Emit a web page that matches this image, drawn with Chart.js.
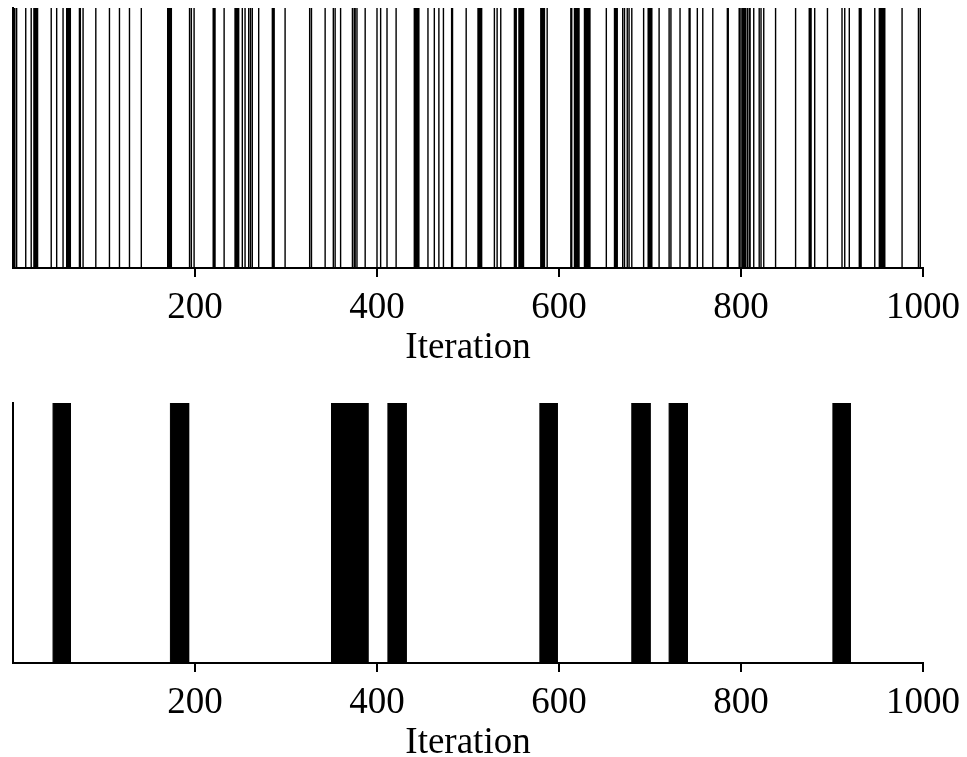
<!DOCTYPE html>
<html>
<head>
<meta charset="utf-8">
<script src="https://cdn.jsdelivr.net/npm/chart.js@4.4.0/dist/chart.umd.min.js"></script>
<style>
  body { margin: 0; background: #fff; overflow: hidden; }
  .panel { position: absolute; left: 0; }
</style>
</head>
<body>
<div class="panel" style="top:0px"><canvas id="eventChart" width="967" height="380"></canvas></div>
<div class="panel" style="top:395px"><canvas id="blockChart" width="967" height="380"></canvas></div>
<script>
// iterations with a single event (top panel)
const eventIterations = [
    1, 2, 4, 14, 20, 23, 24, 25, 26, 27, 42, 48, 55, 59, 60, 61, 62, 63, 73, 74, 77, 91,
    106, 117, 128, 141, 170, 171, 172, 173, 174, 194, 196, 199, 220, 221, 222, 232,
    244, 245, 246, 247, 248, 252, 255, 259, 261, 263, 270, 285, 286, 287, 299,
    326, 328, 343, 352, 354, 360, 373, 375, 376, 378, 387,
    400, 404, 411, 421, 441, 442, 443, 444, 445, 446, 456, 463, 468, 473, 482, 483, 498,
    511, 512, 513, 514, 515, 529, 532, 536, 551, 552, 553, 556, 557, 558, 559, 560, 561,
    580, 581, 582, 583, 584, 587,
    613, 614, 617, 618, 619, 620, 621, 622, 628, 629, 630, 631, 632, 633, 634, 652,
    661, 662, 663, 664, 670, 672, 675, 677, 680, 693, 698, 699, 700, 701, 702,
    710, 721, 723, 733, 743, 744, 752, 758, 769, 785, 786,
    798, 799, 801, 802, 803, 804, 805, 807, 809, 810, 814, 820, 822, 825, 838, 860,
    875, 876, 877, 881, 895, 911, 914, 919, 930, 931, 932, 947,
    952, 953, 954, 955, 956, 957, 958, 977, 995, 997
];

// start and end iteration of each block (bottom panel)
const blockStarts = [44, 173, 350, 412, 579, 680, 721, 901];
const blockEnds = [63, 193, 390, 432, 598, 700, 741, 920];

const tickValues = [200, 400, 600, 800, 1000];
const axisTitle = 'Iteration';

const serif = 'Liberation Serif';

// one vertical segment per event, separated by gaps
function eventSegments(iters) {
    const points = [];
    iters.forEach(it => {
        points.push({ x: it, y: 0 }, { x: it, y: 1 }, { x: it, y: null });
    });
    return points;
}

// rectangle outline for every block, filled down to zero
function blockOutline(starts, ends) {
    const points = [];
    starts.forEach((s, i) => {
        points.push({ x: s, y: 0 }, { x: s, y: 1 }, { x: ends[i], y: 1 }, { x: ends[i], y: 0 });
    });
    return points;
}

function panelOptions() {
    return {
        responsive: false,
        animation: false,
        devicePixelRatio: 1,
        layout: { padding: { top: 8, left: 13, right: 44, bottom: 0 } },
        plugins: {
            legend: { display: false },
            tooltip: { enabled: false }
        },
        elements: { point: { radius: 0 } },
        scales: {
            x: {
                type: 'linear',
                min: 0,
                max: 1000,
                afterBuildTicks: scale => {
                    scale.ticks = tickValues.map(v => ({ value: v }));
                },
                afterFit: scale => {
                    scale.height = 112;
                    // the 1000 label may hang over the plot edge
                    scale.paddingLeft = 0;
                    scale.paddingRight = 0;
                },
                grid: { drawOnChartArea: false, drawTicks: true, tickLength: 9, color: '#000', lineWidth: 2 },
                border: { display: true, color: '#000', width: 2 },
                ticks: {
                    color: '#000',
                    padding: 9,
                    maxRotation: 0,
                    autoSkip: false,
                    callback: v => String(v),
                    font: { family: serif, size: 37 }
                },
                title: {
                    display: true,
                    text: axisTitle,
                    color: '#000',
                    padding: { top: 0, bottom: 10 },
                    font: { family: serif, size: 37 }
                }
            },
            y: {
                min: 0,
                max: 1,
                ticks: { display: false },
                grid: { display: false, drawTicks: false },
                border: { display: true, color: '#000', width: 2 }
            }
        }
    };
}

function createEventChart() {
    const ctx = document.getElementById('eventChart').getContext('2d');
    new Chart(ctx, {
        type: 'line',
        data: {
            datasets: [{
                data: eventSegments(eventIterations),
                borderColor: '#000',
                borderWidth: 1.4,
                spanGaps: false,
                fill: false
            }]
        },
        options: panelOptions()
    });
}

function createBlockChart() {
    const ctx = document.getElementById('blockChart').getContext('2d');
    new Chart(ctx, {
        type: 'line',
        data: {
            datasets: [{
                data: blockOutline(blockStarts, blockEnds),
                borderColor: '#000',
                borderWidth: 1,
                backgroundColor: '#000',
                fill: 'origin'
            }]
        },
        options: panelOptions()
    });
}

createEventChart();
createBlockChart();
</script>
</body>
</html>
